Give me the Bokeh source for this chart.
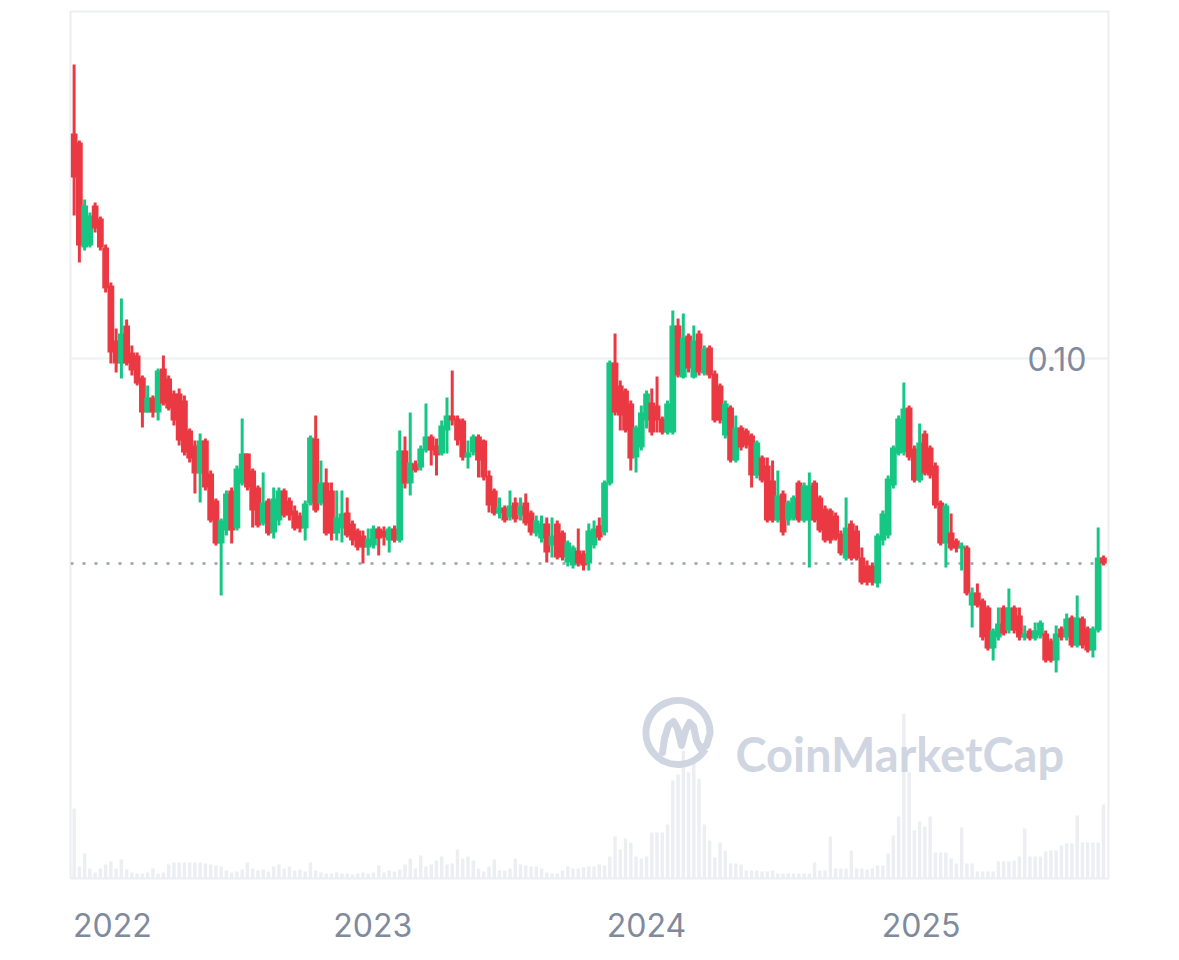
import numpy as np
import pandas as pd
from bokeh.plotting import figure
from bokeh.models import (Range1d, FixedTicker, DatetimeTickFormatter, Span,
                          ColumnDataSource)
from bokeh.embed import file_html
from bokeh.resources import INLINE
from bokeh.core.properties import value

# ---------------- data (weekly candles, USD) ----------------
first_week = "2021-11-29"

opens = [0.1450,0.1432,0.1222,0.1226,0.1306,0.1280,0.1222,0.1146,0.1036,0.0990,
         0.1066,0.1012,0.1006,0.0962,0.0892,0.0922,0.0892,0.0980,0.0960,0.0930,
         0.0930,0.0916,0.0856,0.0826,0.0770,0.0836,0.0770,0.0716,0.0630,0.0656,
         0.0736,0.0660,0.0750,0.0810,0.0776,0.0742,0.0670,0.0716,0.0652,0.0676,
         0.0736,0.0716,0.0696,0.0686,0.0660,0.0710,0.0840,0.0710,0.0752,0.0736,
         0.0650,0.0660,0.0692,0.0670,0.0656,0.0646,0.0622,0.0626,0.0660,0.0656,
         0.0636,0.0660,0.0636,0.0816,0.0750,0.0790,0.0782,0.0816,0.0844,0.0826,
         0.0810,0.0856,0.0886,0.0880,0.0876,0.0802,0.0812,0.0844,0.0836,0.0766,
         0.0736,0.0690,0.0702,0.0682,0.0712,0.0686,0.0712,0.0692,0.0650,0.0640,
         0.0670,0.0626,0.0670,0.0652,0.0592,0.0586,0.0616,0.0610,0.0590,0.0626,
         0.0666,0.0652,0.0750,0.0992,0.0946,0.0936,0.0910,0.0802,0.0822,0.0876,
         0.0912,0.0906,0.0880,0.0852,0.0852,0.1066,0.0962,0.1046,0.0962,0.1050,
         0.0970,0.1022,0.0970,0.0946,0.0846,0.0902,0.0796,0.0862,0.0856,0.0846,
         0.0766,0.0802,0.0786,0.0756,0.0676,0.0730,0.0676,0.0680,0.0752,0.0676,
         0.0676,0.0752,0.0722,0.0700,0.0696,0.0686,0.0650,0.0600,0.0670,0.0656,
         0.0602,0.0586,0.0586,0.0550,0.0636,0.0646,0.0746,0.0810,0.0812,0.0902,
         0.0820,0.0756,0.0850,0.0822,0.0786,0.0712,0.0630,0.0652,0.0636,0.0620,
         0.0622,0.0506,0.0532,0.0516,0.0502,0.0420,0.0442,0.0502,0.0456,0.0502,
         0.0486,0.0442,0.0456,0.0440,0.0446,0.0450,0.0436,0.0396,0.0460,0.0442,
         0.0482,0.0426,0.0480,0.0460,0.0416,0.0456,0.0602]

closes = [0.1362,0.1226,0.1306,0.1286,0.1260,0.1222,0.1140,0.1012,0.0990,0.1050,
          0.0990,0.0976,0.0950,0.0892,0.0922,0.0892,0.0976,0.0910,0.0900,0.0876,
          0.0836,0.0812,0.0800,0.0770,0.0836,0.0742,0.0676,0.0630,0.0676,0.0730,
          0.0656,0.0780,0.0810,0.0742,0.0696,0.0666,0.0712,0.0650,0.0720,0.0736,
          0.0686,0.0686,0.0660,0.0660,0.0710,0.0842,0.0696,0.0752,0.0650,0.0650,
          0.0682,0.0690,0.0646,0.0636,0.0622,0.0622,0.0640,0.0660,0.0640,0.0642,
          0.0660,0.0636,0.0816,0.0750,0.0792,0.0776,0.0820,0.0844,0.0816,0.0806,
          0.0866,0.0886,0.0876,0.0836,0.0802,0.0812,0.0844,0.0796,0.0762,0.0706,
          0.0690,0.0702,0.0676,0.0706,0.0678,0.0706,0.0670,0.0652,0.0676,0.0670,
          0.0612,0.0646,0.0602,0.0602,0.0632,0.0622,0.0590,0.0586,0.0656,0.0660,
          0.0642,0.0752,0.0992,0.0892,0.0886,0.0856,0.0800,0.0862,0.0892,0.0930,
          0.0852,0.0876,0.0852,0.0910,0.1066,0.0966,0.1042,0.0980,0.1036,0.0972,
          0.1020,0.0966,0.0876,0.0876,0.0910,0.0796,0.0862,0.0822,0.0826,0.0766,
          0.0832,0.0756,0.0676,0.0676,0.0726,0.0652,0.0712,0.0722,0.0676,0.0746,
          0.0746,0.0676,0.0656,0.0636,0.0636,0.0640,0.0610,0.0662,0.0600,0.0600,
          0.0552,0.0552,0.0552,0.0646,0.0690,0.0760,0.0822,0.0880,0.0900,0.0802,
          0.0756,0.0832,0.0770,0.0766,0.0706,0.0630,0.0706,0.0620,0.0620,0.0626,
          0.0530,0.0532,0.0506,0.0442,0.0420,0.0456,0.0470,0.0450,0.0502,0.0456,
          0.0442,0.0450,0.0440,0.0456,0.0472,0.0396,0.0396,0.0450,0.0442,0.0480,
          0.0426,0.0482,0.0426,0.0416,0.0460,0.0602,0.0590]

highs = [0.1588,0.1436,0.1318,0.1292,0.1312,0.1284,0.1228,0.1152,0.1060,0.1120,
         0.1078,0.1026,0.1012,0.0966,0.0946,0.0926,0.0980,0.1006,0.0966,0.0936,
         0.0940,0.0926,0.0860,0.0836,0.0850,0.0840,0.0776,0.0720,0.0680,0.0736,
         0.0742,0.0786,0.0880,0.0810,0.0780,0.0746,0.0772,0.0720,0.0742,0.0742,
         0.0740,0.0722,0.0706,0.0692,0.0716,0.0846,0.0886,0.0796,0.0780,0.0752,
         0.0736,0.0736,0.0722,0.0676,0.0660,0.0656,0.0660,0.0666,0.0664,0.0664,
         0.0664,0.0666,0.0856,0.0844,0.0892,0.0796,0.0826,0.0910,0.0848,0.0840,
         0.0876,0.0922,0.0976,0.0886,0.0880,0.0836,0.0848,0.0848,0.0838,0.0776,
         0.0740,0.0722,0.0706,0.0736,0.0722,0.0722,0.0730,0.0696,0.0686,0.0686,
         0.0682,0.0682,0.0676,0.0656,0.0636,0.0626,0.0660,0.0616,0.0670,0.0676,
         0.0682,0.0756,0.0996,0.1050,0.0956,0.0940,0.0916,0.0866,0.0906,0.0936,
         0.0940,0.0964,0.0884,0.0916,0.1096,0.1080,0.1090,0.1050,0.1066,0.1056,
         0.1026,0.1026,0.0976,0.0950,0.0916,0.0906,0.0886,0.0866,0.0860,0.0850,
         0.0836,0.0806,0.0802,0.0796,0.0776,0.0736,0.0716,0.0726,0.0756,0.0752,
         0.0772,0.0756,0.0726,0.0706,0.0700,0.0692,0.0656,0.0722,0.0676,0.0666,
         0.0622,0.0596,0.0592,0.0650,0.0696,0.0766,0.0826,0.0886,0.0952,0.0906,
         0.0826,0.0870,0.0856,0.0826,0.0792,0.0716,0.0710,0.0690,0.0640,0.0632,
         0.0626,0.0542,0.0550,0.0520,0.0506,0.0460,0.0502,0.0506,0.0540,0.0506,
         0.0502,0.0466,0.0460,0.0472,0.0476,0.0456,0.0440,0.0466,0.0464,0.0490,
         0.0486,0.0526,0.0484,0.0464,0.0464,0.0662,0.0606]

lows = [0.1286,0.1192,0.1216,0.1222,0.1252,0.1216,0.1132,0.0990,0.0972,0.0960,
        0.0986,0.0966,0.0946,0.0862,0.0892,0.0882,0.0876,0.0906,0.0896,0.0866,
        0.0826,0.0806,0.0792,0.0730,0.0712,0.0736,0.0672,0.0626,0.0526,0.0646,
        0.0630,0.0656,0.0746,0.0736,0.0662,0.0662,0.0666,0.0646,0.0640,0.0666,
        0.0682,0.0676,0.0656,0.0652,0.0636,0.0706,0.0692,0.0706,0.0646,0.0636,
        0.0636,0.0632,0.0642,0.0626,0.0616,0.0590,0.0606,0.0620,0.0606,0.0626,
        0.0612,0.0632,0.0632,0.0740,0.0726,0.0772,0.0776,0.0812,0.0786,0.0766,
        0.0806,0.0810,0.0866,0.0826,0.0796,0.0780,0.0806,0.0762,0.0756,0.0692,
        0.0686,0.0680,0.0672,0.0676,0.0672,0.0676,0.0666,0.0646,0.0644,0.0632,
        0.0592,0.0602,0.0598,0.0596,0.0584,0.0580,0.0584,0.0576,0.0576,0.0620,
        0.0636,0.0646,0.0746,0.0886,0.0856,0.0852,0.0776,0.0772,0.0816,0.0860,
        0.0846,0.0852,0.0848,0.0848,0.0848,0.0962,0.0960,0.0972,0.0960,0.0966,
        0.0966,0.0960,0.0872,0.0870,0.0840,0.0792,0.0792,0.0816,0.0820,0.0742,
        0.0760,0.0752,0.0672,0.0672,0.0672,0.0646,0.0666,0.0676,0.0672,0.0672,
        0.0582,0.0672,0.0652,0.0632,0.0630,0.0636,0.0606,0.0596,0.0596,0.0596,
        0.0548,0.0546,0.0546,0.0542,0.0626,0.0640,0.0740,0.0806,0.0806,0.0796,
        0.0752,0.0752,0.0766,0.0760,0.0700,0.0626,0.0582,0.0616,0.0612,0.0576,
        0.0526,0.0462,0.0502,0.0436,0.0416,0.0396,0.0436,0.0446,0.0450,0.0450,
        0.0436,0.0436,0.0436,0.0436,0.0440,0.0392,0.0392,0.0372,0.0436,0.0436,
        0.0422,0.0422,0.0420,0.0412,0.0402,0.0452,0.0586]

# weekly traded volume (relative units)
volumes = [70,12,25,10,6,10,14,17,10,19,
           9,6,5,5,6,10,5,6,14,16,
           16,16,16,16,16,15,14,13,12,8,
           6,7,9,16,10,8,9,7,12,14,
           10,12,8,9,7,16,8,6,5,5,
           6,5,5,4,5,6,5,6,13,6,
           8,7,9,14,20,10,23,12,14,18,
           22,14,15,29,20,22,18,10,7,12,
           19,8,8,10,20,14,13,12,12,10,
           6,5,5,8,12,10,10,11,12,12,
           14,13,22,42,29,40,36,22,20,22,
           46,46,46,54,98,104,128,106,117,100,
           54,38,21,36,28,15,15,14,8,8,
           8,7,7,8,5,5,5,5,5,5,
           5,16,8,8,42,10,10,10,28,10,
           10,9,10,13,13,25,43,62,165,106,
           48,57,52,62,26,26,26,20,15,51,
           15,15,7,7,7,7,17,17,17,18,
           22,50,22,22,22,27,28,28,33,35,
           35,63,36,36,36,36,74]

year_labels = ["2022", "2023", "2024", "2025"]
year_label_dates = ["2022-01-19", "2023-01-01", "2024-01-01", "2025-01-01"]
grid_price = 0.10
last_price = 0.059

# ---------------- styling ----------------
GREEN = "#16c784"
RED = "#ea3943"
TEXT = "#808a9d"
WATER = "#cfd5e1"
DAY = 86400000

# frame position on the page (pixels)
FL, FR, FT, FB = 70, 1108, 11, 878

dates = pd.date_range(first_week, periods=len(opens), freq="7D")
o = np.array(opens); c = np.array(closes)
colors = [GREEN if cc >= oo else RED for oo, cc in zip(opens, closes)]

src = ColumnDataSource(dict(
    x=dates, open=opens, close=closes, high=highs, low=lows,
    top=np.maximum(o, c), bottom=np.minimum(o, c), color=colors,
    vol=volumes))

X0 = pd.Timestamp("2021-11-24 04:00").value // 10**6
X1 = pd.Timestamp("2025-09-07 18:00").value // 10**6
Y0, Y1 = -0.004, 0.1694

p = figure(width=1171, height=952, output_backend="svg", toolbar_location=None,
           x_axis_type="datetime", y_axis_location=None,
           x_range=Range1d(X0, X1), y_range=Range1d(Y0, Y1),
           min_border_left=FL, min_border_right=1171 - FR, min_border_top=FT,
           min_border_bottom=952 - FB)
p.extra_y_ranges = {"vol": Range1d(0, FB - FT)}
p.background_fill_color = "white"
p.border_fill_color = "white"
p.outline_line_color = "#eceef2"
p.outline_line_width = 2
p.xgrid.visible = False
p.ygrid.visible = False

ax = p.xaxis[0]
ax.ticker = FixedTicker(ticks=[pd.Timestamp(d).value // 10**6 for d in year_label_dates])
ax.formatter = DatetimeTickFormatter(
    years="%Y", months="%Y", days="%Y", hours="%Y", hourmin="%Y",
    minutes="%Y", minsec="%Y", seconds="%Y", milliseconds="%Y",
    microseconds="%Y")
ax.axis_line_color = None
ax.major_tick_line_color = None
ax.minor_tick_line_color = None
ax.major_tick_out = 0
ax.major_label_standoff = 34
ax.major_label_text_font = "Inter"
ax.major_label_text_font_size = "32px"
ax.major_label_text_color = TEXT

# helpers for decoration placement only (frame pixels -> data)
def sx(px):
    return X0 + (px - FL) / (FR - FL) * (X1 - X0)

def sy(py):
    return Y1 - (py - FT) / (FB - FT) * (Y1 - Y0)

p.add_layout(Span(location=grid_price, dimension="width", line_color="#eef0f3",
                  line_width=2, level="underlay"))
p.add_layout(Span(location=last_price, dimension="width", line_color="#9aa0ad",
                  line_width=2.5, line_dash="3 9", level="underlay"))

# volume
p.vbar(x="x", width=4.6 * DAY, top="vol", bottom=0, y_range_name="vol",
       source=src, fill_color="#eceef2", line_color=None)

# watermark
p.arc(x=[sx(677.5)], y=[sy(732)], radius=32, radius_units="screen",
      start_angle=0.0, end_angle=2 * np.pi - 0.55, line_color=WATER, line_width=7)
m_px = [(662, 752), (664, 738), (668, 725), (673, 721), (677, 728), (681, 745),
        (685, 730), (689, 722), (693, 726), (696, 740), (700, 748), (706, 745),
        (709.5, 733)]
p.line(x=[sx(a) for a, b in m_px], y=[sy(b) for a, b in m_px], line_color=WATER,
       line_width=7, line_cap="round", line_join="round")
p.text(x=[sx(735)], y=[sy(753)], text=["CoinMarketCap"], text_font=value("Lato"),
       text_font_style="bold", text_font_size="47px", text_color=WATER,
       text_align="left", text_baseline="alphabetic")

# candles
p.segment(x0="x", y0="high", x1="x", y1="low", line_color="color",
          line_width=3, source=src)
p.vbar(x="x", width=9 * DAY, top="top", bottom="bottom", fill_color="color",
       line_color=None, source=src)

# price label
p.text(x=[sx(1086)], y=[grid_price], text=["0.10"], text_font=value("Inter"),
       text_font_size="32px", text_color=TEXT, text_align="right",
       text_baseline="middle")

open("out.html", "w").write(file_html(p, INLINE))
